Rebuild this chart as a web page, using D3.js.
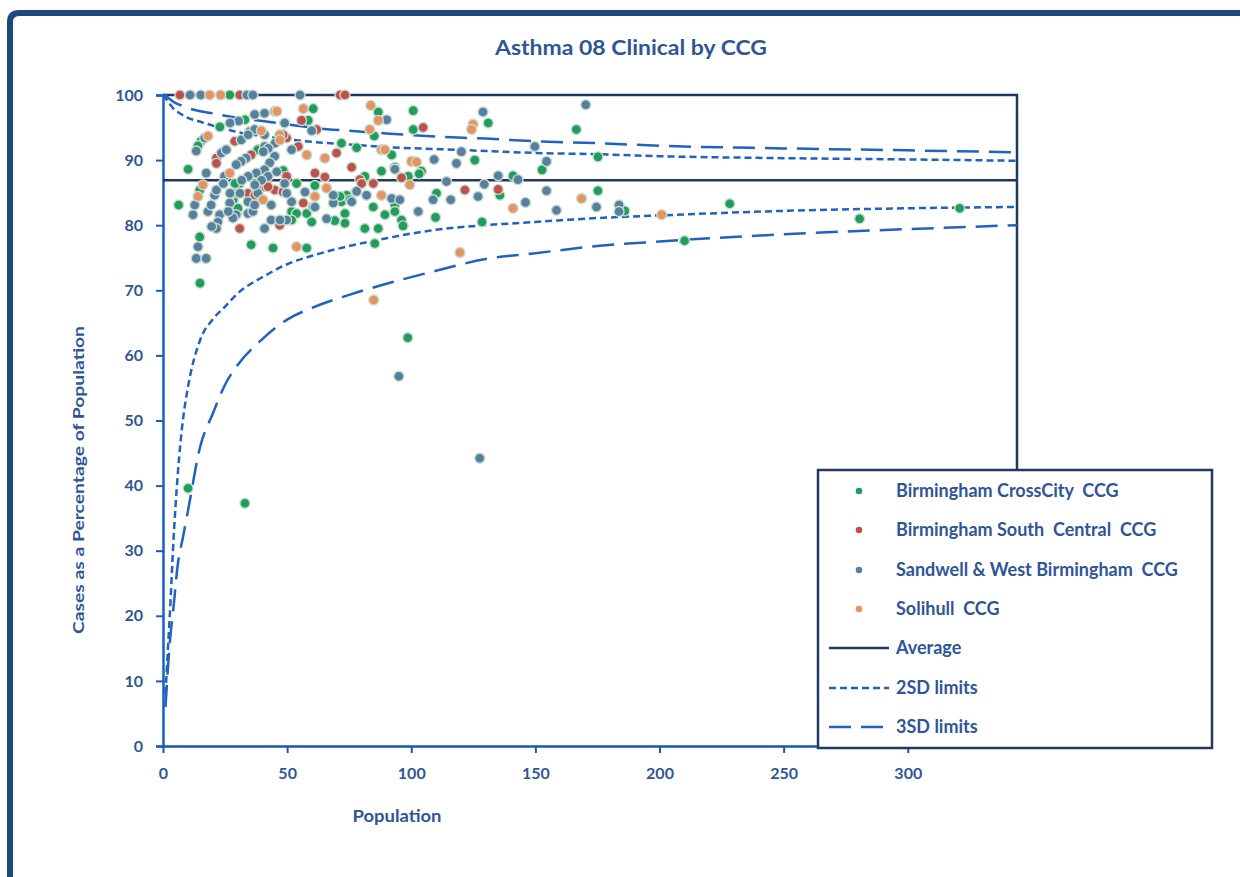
<!DOCTYPE html>
<html lang="en">
<head>
  <meta charset="UTF-8">
  <title>Asthma 08 Clinical by CCG</title>
  <script src="https://d3js.org/d3.v7.min.js"></script>
  <style>
    body { margin: 0; padding: 0; background: #fff; font-family: Lato, 'Open Sans', sans-serif; }
    svg { display: block; }
    .tick text { fill: #2f5597; font-weight: bold; font-size: 16px; font-family: Lato, sans-serif; }
  </style>
</head>
<body>
  <svg id="chart"></svg>

  <script>
    // Series values: [population, cases %]
    const crossCity = [
      [10.1, 39.6], [33.0, 37.3], [98.6, 62.7], [14.9, 71.1], [26.9, 100], [22.9, 95.1], [15.3, 92.9],
      [14.1, 92.2], [10.1, 88.6], [38.2, 91.6], [6.3, 83.1], [14.8, 85.4], [30.9, 86.4], [30.2, 82.6],
      [14.8, 78.2], [35.5, 77.0], [44.3, 76.5], [53.8, 86.4], [61.2, 86.1], [51.8, 82.1], [57.9, 81.8],
      [59.9, 80.5], [69.2, 80.7], [71.9, 83.6], [74.0, 84.6], [84.7, 82.8], [73.3, 81.8], [73.3, 80.3],
      [89.4, 81.6], [93.4, 83.1], [93.4, 82.1], [96.1, 80.8], [96.7, 79.9], [81.3, 79.5], [86.7, 79.5],
      [85.3, 77.2], [57.9, 76.5], [60.5, 97.9], [86.7, 97.4], [100.8, 97.6], [58.5, 96.1], [85.1, 93.7],
      [100.8, 94.7], [71.9, 92.6], [78.0, 91.9], [92.1, 90.8], [88.0, 88.3], [93.4, 88.9], [104.1, 88.3],
      [81.3, 87.5], [98.8, 87.5], [166.5, 94.7], [152.7, 88.5], [175.2, 90.5], [131.0, 95.7], [125.6, 90.0],
      [103.2, 87.9], [141.0, 87.6], [135.7, 84.6], [110.2, 84.9], [109.8, 81.2], [128.5, 80.5], [175.2, 85.3],
      [186.0, 82.2], [228.3, 83.3], [210.1, 77.6], [280.6, 81.0], [320.9, 82.6], [33.0, 96.2], [29.0, 86.4],
      [28.3, 83.9], [53.8, 81.8], [60.5, 82.8], [71.3, 84.4], [75.3, 83.9], [51.8, 80.8], [48.4, 88.4]
    ];
    const southCentral = [
      [6.8, 100], [30.9, 100], [71.3, 100], [73.3, 100], [21.5, 90.3], [21.5, 89.5], [28.9, 92.9],
      [35.5, 90.8], [40.3, 85.9], [34.2, 84.9], [37.6, 85.9], [45.0, 85.4], [48.3, 85.1], [47.0, 80.0],
      [30.9, 79.5], [56.5, 83.4], [55.8, 96.1], [61.9, 94.7], [104.8, 95.0], [49.8, 93.4], [54.5, 92.1],
      [69.9, 91.1], [76.0, 88.9], [49.8, 87.5], [61.2, 88.0], [65.2, 87.4], [79.3, 87.0], [96.1, 87.3],
      [80.0, 86.4], [84.7, 86.4], [100.8, 89.8], [135.0, 85.5], [121.6, 85.4], [48.4, 93.9], [37.0, 84.6],
      [42.3, 85.9]
    ];
    const sandwell = [
      [10.9, 100], [15.2, 100], [33.8, 100], [36.2, 100], [55.2, 100], [40.9, 97.2], [36.9, 97.0],
      [30.5, 96.0], [27.0, 95.7], [16.8, 93.4], [13.4, 91.4], [23.5, 91.1], [25.5, 91.6], [31.5, 93.1],
      [34.9, 94.4], [36.9, 94.7], [40.9, 93.9], [49.0, 95.7], [40.9, 92.1], [33.5, 90.3], [31.5, 89.8],
      [29.5, 89.3], [24.8, 87.5], [17.4, 88.0], [45.0, 90.6], [43.0, 89.6], [40.9, 88.5], [37.6, 88.0],
      [42.3, 87.5], [12.8, 83.1], [12.1, 81.6], [18.1, 82.1], [19.4, 83.1], [20.8, 84.6], [21.5, 85.4],
      [22.8, 81.6], [22.1, 80.5], [21.5, 79.5], [26.9, 83.4], [28.2, 84.9], [29.5, 81.6], [28.2, 81.1],
      [34.2, 83.6], [34.2, 81.8], [36.2, 82.1], [36.9, 83.1], [38.2, 84.9], [43.6, 83.1], [43.6, 80.8],
      [40.9, 79.5], [14.1, 76.7], [13.4, 74.9], [17.4, 74.9], [49.0, 86.4], [57.2, 85.1], [51.8, 83.6],
      [61.2, 82.8], [49.8, 80.8], [65.9, 81.0], [68.6, 83.4], [68.6, 84.6], [76.0, 83.6], [78.0, 85.2],
      [82.0, 84.6], [92.1, 84.1], [95.4, 83.9], [102.8, 82.1], [90.1, 96.2], [59.9, 94.5], [51.8, 91.6],
      [93.4, 88.6], [170.3, 98.5], [149.8, 92.1], [154.5, 89.8], [128.9, 97.4], [120.2, 91.3], [118.2, 89.5],
      [109.2, 90.1], [135.0, 87.6], [143.0, 87.0], [129.4, 86.3], [126.9, 84.4], [115.9, 83.9], [108.8, 83.9],
      [146.0, 83.5], [154.5, 85.3], [158.5, 82.3], [174.6, 82.8], [183.7, 83.1], [183.7, 82.1], [127.6, 44.2],
      [95.0, 56.8], [114.2, 86.7], [34.3, 93.9], [45.1, 92.6], [42.4, 91.8], [40.4, 91.3], [34.3, 87.5],
      [45.8, 88.2], [39.7, 86.9], [37.0, 86.2], [24.3, 86.4], [27.0, 84.9], [31.7, 86.9], [31.0, 84.9],
      [26.3, 82.1], [19.6, 79.8], [49.8, 84.9], [47.1, 80.8]
    ];
    const solihull = [
      [18.8, 100], [23.2, 100], [45.0, 97.5], [45.9, 97.5], [18.1, 93.7], [39.6, 94.5], [47.0, 93.9],
      [47.1, 93.1], [26.9, 88.0], [14.1, 84.4], [16.1, 86.2], [40.3, 83.9], [65.9, 85.7], [61.2, 84.4],
      [88.0, 84.6], [53.8, 76.7], [99.4, 86.2], [56.5, 97.9], [83.7, 98.4], [86.7, 96.1], [83.3, 94.7],
      [88.0, 91.6], [89.4, 91.6], [57.9, 90.8], [65.2, 90.3], [100.1, 89.8], [102.1, 89.7], [124.9, 95.5],
      [124.3, 94.7], [141.0, 82.6], [168.6, 84.1], [119.6, 75.8], [84.9, 68.5], [200.9, 81.6]
    ];

    // Average and control limits
    const average = 86.9;
    const limitPop = [0, 1, 2, 3, 4, 6, 8, 10, 15, 20, 25, 30, 40, 50, 60, 75, 90, 110, 130, 150, 175, 200, 250, 300, 344];
    const upper3 = [100, 100, 99.6, 99.3, 99.0, 98.6, 98.3, 98.0, 97.5, 97.2, 96.8, 96.5, 96.0, 95.5, 95.0, 94.5, 94.1, 93.6, 93.3, 92.9, 92.6, 92.2, 91.8, 91.5, 91.2];
    const upper2 = [100, 99.5, 99.0, 98.5, 98.0, 97.4, 96.9, 96.5, 95.9, 95.3, 94.8, 94.3, 93.7, 93.2, 92.8, 92.4, 92.0, 91.7, 91.4, 91.1, 90.9, 90.6, 90.3, 90.1, 89.9];
    const lower2Pop = limitPop.slice(1);
    const lower2 = [8, 15, 22, 30, 42, 50, 55, 62.4, 65.5, 67.5, 69.5, 72, 74, 75.3, 76.8, 78, 79.3, 80, 80.5, 81.1, 81.5, 82.2, 82.6, 82.8];
    const lower3 = [6, 12, 17, 20.4, 28, 32, 36, 46, 51, 55.5, 58.5, 62.5, 65.5, 67.3, 69.3, 71, 73, 74.8, 75.7, 76.8, 77.5, 78.6, 79.4, 80.0];

    const yTicks = [0, 10, 20, 30, 40, 50, 60, 70, 80, 90, 100];
    const xTicks = [0, 50, 100, 150, 200, 250, 300];

    const seriesNames = ["Birmingham CrossCity  CCG", "Birmingham South  Central  CCG",
                         "Sandwell & West Birmingham  CCG", "Solihull  CCG"];
    const seriesColors = ["#1f9d5c", "#c0504d", "#56809f", "#e8935f"];
    const seriesData = [crossCity, southCentral, sandwell, solihull];

    const width = 1240, height = 877;
    const navy = "#1f3864", textBlue = "#2f5597", limitBlue = "#1f62c4";

    const svg = d3.select("#chart").attr("width", width).attr("height", height);

    // outer frame of the chart object
    svg.append("path")
      .attr("d", "M10," + (height + 10) + " L10,22 Q10,13 19,13 L" + (width + 10) + ",13")
      .attr("fill", "none").attr("stroke", "#1f497d").attr("stroke-width", 6);

    svg.append("text")
      .attr("x", 631).attr("y", 55)
      .attr("text-anchor", "middle")
      .attr("fill", textBlue).attr("font-weight", "bold").attr("font-size", 21)
      .attr("textLength", 272).attr("lengthAdjust", "spacingAndGlyphs")
      .text("Asthma 08 Clinical by CCG");

    const x = d3.scaleLinear().domain([0, 344]).range([163, 1017]);
    const y = d3.scaleLinear().domain([0, 100]).range([746, 95]);

    // y axis
    const yAxis = svg.append("g")
      .attr("transform", "translate(" + x(0) + ",0)")
      .call(d3.axisLeft(y).tickValues(yTicks).tickSize(7).tickPadding(13));
    yAxis.select(".domain").attr("stroke", "#1a5dc4").attr("stroke-width", 2.5);
    yAxis.selectAll(".tick line").attr("stroke", "#1a5dc4").attr("stroke-width", 2);

    // x axis
    const xAxis = svg.append("g")
      .attr("transform", "translate(0," + y(0) + ")")
      .call(d3.axisBottom(x).tickValues(xTicks).tickSize(7).tickSizeOuter(0).tickPadding(15));
    xAxis.select(".domain").attr("stroke", "#1a56b0").attr("stroke-width", 2.5);
    xAxis.selectAll(".tick line").attr("stroke", "#1a56b0").attr("stroke-width", 2);

    // top and right edges of the plot frame
    svg.append("path")
      .attr("d", d3.line()([[x(0), y(100)], [x(344), y(100)], [x(344), y(0)]]))
      .attr("fill", "none").attr("stroke", navy).attr("stroke-width", 2.5);

    svg.append("text")
      .attr("transform", "translate(84," + 480 + ") rotate(-90)")
      .attr("text-anchor", "middle")
      .attr("fill", textBlue).attr("font-weight", "bold").attr("font-size", 16)
      .attr("textLength", 308).attr("lengthAdjust", "spacingAndGlyphs")
      .text("Cases as a Percentage  of  Population");

    svg.append("text")
      .attr("x", 397).attr("y", 822)
      .attr("text-anchor", "middle")
      .attr("fill", textBlue).attr("font-weight", "bold").attr("font-size", 17)
      .attr("textLength", 89).attr("lengthAdjust", "spacingAndGlyphs")
      .text("Population");

    // average line
    svg.append("line")
      .attr("x1", x(0)).attr("x2", x(344)).attr("y1", y(average)).attr("y2", y(average))
      .attr("stroke", navy).attr("stroke-width", 2.5);

    const curve = d3.line().x(d => x(d[0])).y(d => y(d[1])).curve(d3.curveMonotoneX);
    const limitLines = [
      { pop: limitPop, vals: upper2, dash: "7,4" },
      { pop: lower2Pop, vals: lower2, dash: "7,4" },
      { pop: limitPop, vals: upper3, dash: "22,10" },
      { pop: lower2Pop, vals: lower3, dash: "22,10" }
    ];
    limitLines.forEach(l => {
      svg.append("path")
        .attr("d", curve(l.pop.map((p, i) => [p, l.vals[i]])))
        .attr("fill", "none").attr("stroke", limitBlue)
        .attr("stroke-width", 2.5).attr("stroke-dasharray", l.dash);
    });

    // points
    seriesData.forEach((data, i) => {
      svg.append("g").selectAll("circle")
        .data(data).join("circle")
        .attr("cx", d => x(d[0])).attr("cy", d => y(d[1]))
        .attr("r", 5)
        .attr("fill", seriesColors[i])
        .attr("stroke", "#c8dccd").attr("stroke-width", 1.4);
    });

    // legend
    const lg = svg.append("g");
    lg.append("rect").attr("x", 818).attr("y", 470).attr("width", 394).attr("height", 278)
      .attr("fill", "#fff").attr("stroke", navy).attr("stroke-width", 2.5);
    const rowY = [491, 530, 570, 609, 648, 688, 727];
    seriesNames.forEach((name, i) => {
      lg.append("circle").attr("cx", 859).attr("cy", rowY[i]).attr("r", 3.3).attr("fill", seriesColors[i]);
      lg.append("text").attr("x", 896).attr("y", rowY[i] + 6)
        .attr("fill", textBlue).attr("font-weight", "bold").attr("font-size", 18)
        .attr("xml:space", "preserve").text(name);
    });
    const lineKeys = [
      { name: "Average", color: navy, dash: null },
      { name: "2SD limits", color: limitBlue, dash: "7,4" },
      { name: "3SD limits", color: limitBlue, dash: "22,10" }
    ];
    lineKeys.forEach((k, j) => {
      const yy = rowY[4 + j];
      lg.append("line").attr("x1", 829).attr("x2", 889).attr("y1", yy).attr("y2", yy)
        .attr("stroke", k.color).attr("stroke-width", 2.5).attr("stroke-dasharray", k.dash);
      lg.append("text").attr("x", 896).attr("y", yy + 6)
        .attr("fill", textBlue).attr("font-weight", "bold").attr("font-size", 18)
        .text(k.name);
    });
  </script>
</body>
</html>
